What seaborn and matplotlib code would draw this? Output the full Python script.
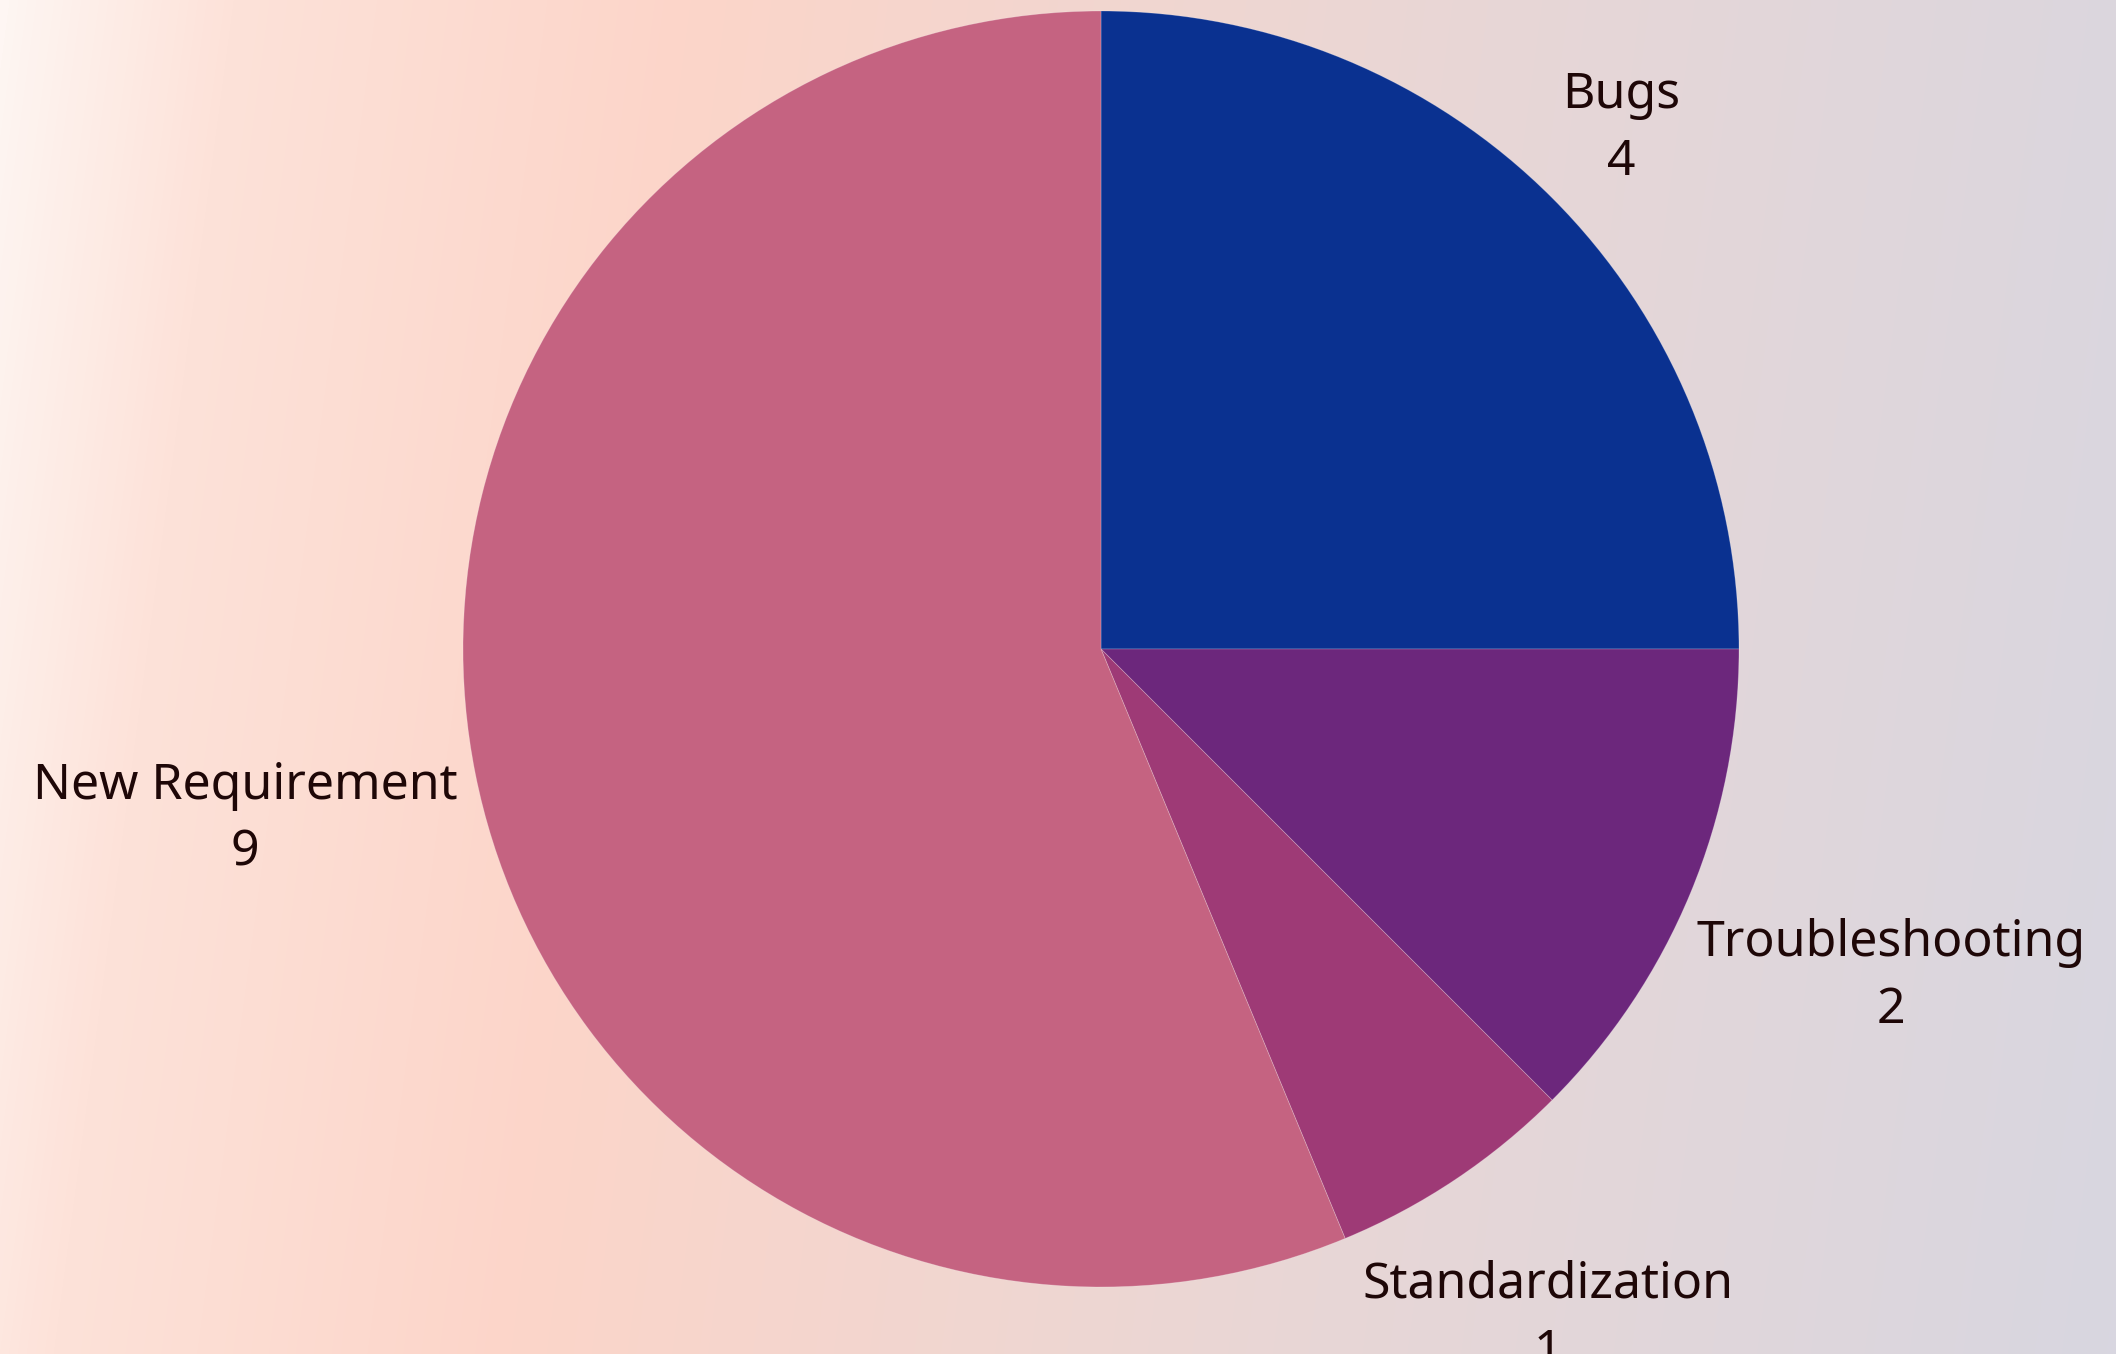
import numpy as np
import matplotlib
matplotlib.use("Agg")
import matplotlib.pyplot as plt
import seaborn as sns
from matplotlib.colors import LinearSegmentedColormap

categories = ["Bugs", "Troubleshooting", "Standardization", "New Requirement"]
values = [4, 2, 1, 9]
colors = ["#0a3190", "#6c277c", "#9e3a76", "#c56381"]

W, H = 2116, 1354
sns.set_theme(style="white")
plt.rcParams['font.family'] = ['Noto Sans', 'DejaVu Sans']

fig = plt.figure(figsize=(W / 100, H / 100), dpi=100)
ax = fig.add_axes([0, 0, 1, 1])

# background gradient
xx, yy = np.meshgrid(np.arange(W), np.arange(H))
t = (xx + 0.133 * yy) / (W + 0.133 * H)
bg_cmap = LinearSegmentedColormap.from_list(
    "bg", [(0.0, "#fef6f3"), (0.10, "#fde2d9"), (0.30, "#fcd5c9"),
           (0.65, "#e8d7d6"), (1.0, "#d8d6e0")])
ax.imshow(t, cmap=bg_cmap, extent=(0, W, 0, H), origin="upper", zorder=0,
          aspect="auto", interpolation="bilinear")

cx, cy, R = 1101, H - 649, 638
wedges, _ = ax.pie(values, colors=colors, startangle=90, counterclock=False,
                   center=(cx, cy), radius=R,
                   wedgeprops=dict(linewidth=0.6, edgecolor="#ffffff40"),
                   frame=True)
for w in wedges:
    w.set_zorder(2)

ax.set_xlim(0, W)
ax.set_ylim(0, H)
ax.set_aspect("equal")
ax.axis("off")

texts = []
for w, c, v in zip(wedges, categories, values):
    txt = ax.text(cx, cy, f"{c}\n{v}", ha="center", va="center", fontsize=36,
                  color="#1e0707", linespacing=1.45, zorder=3)
    texts.append((w, txt))

fig.canvas.draw()
renderer = fig.canvas.get_renderer()
pad = 15
for w, txt in texts:
    mid = np.deg2rad((w.theta1 + w.theta2) / 2)
    bb = txt.get_window_extent(renderer)
    hw, hh = bb.width / 2, bb.height / 2
    d = R + pad + hw * abs(np.cos(mid)) + hh * abs(np.sin(mid))
    txt.set_position((cx + d * np.cos(mid), cy + d * np.sin(mid)))

fig.savefig("out.png", dpi=100)
